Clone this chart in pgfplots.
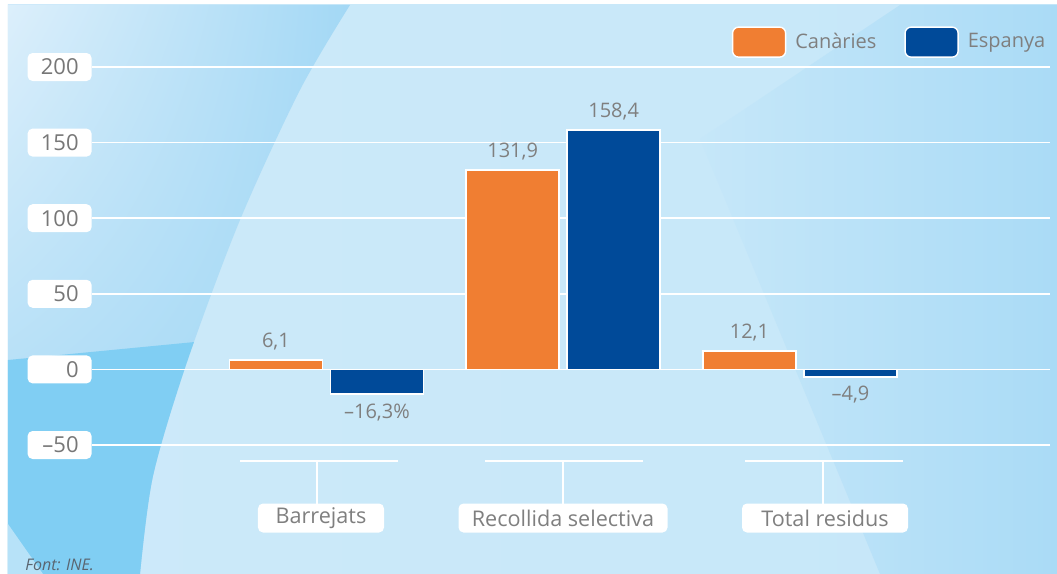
\documentclass[border=0pt]{standalone}
\usepackage{fontspec}
\setmainfont{Open Sans}
\usepackage{pgfplots}
\pgfplotsset{compat=1.18}
\usetikzlibrary{shadings}
\definecolor{cOrange}{HTML}{F07E32}
\definecolor{cBlue}{HTML}{004A99}
\definecolor{valGray}{HTML}{7F7F7F}
\definecolor{tickGray}{HTML}{777777}
\definecolor{srcGray}{HTML}{5A6570}
\definecolor{bgPale}{HTML}{DCEFFB}
\definecolor{bgBase}{HTML}{C6E7F9}
\definecolor{bgMid}{HTML}{A3D8F5}
\definecolor{bgDark}{HTML}{80CEF3}
\definecolor{bgRight}{HTML}{AADBF6}

% category bracket + label box (pixel-like units, origin at axis lower left)
\newcommand{\catlabel}[6]{%
  \draw[white, line width=0.8pt] (#2,-16) -- (#3,-16);
  \draw[white, line width=0.8pt] (#1,-16) -- (#1,-59);
  \node[fill=white, rounded corners=2.5pt, minimum height=14.5pt, minimum width=#5,
        inner sep=0pt, text=valGray, font=\fontsize{10.8}{12}\selectfont] at (#4,-73) {#6};}

\begin{document}
\begin{tikzpicture}
\begin{scope}[x=0.5pt,y=0.5pt]
  \fill[white] (-92,-129) rectangle (965,445);
  \shade[left color=bgBase!70!bgPale, right color=bgBase] (-84,-129) rectangle (965,440);
  % top right wedge
  \shade[left color=bgBase, right color=bgRight]
    (808,440) -- (965,440) -- (965,-129) -- (788,-129) -- (608,306) -- cycle;
  % left swoosh
  \shade[upper left=bgPale, upper right=bgMid, lower left=bgMid, lower right=bgMid]
    (-84,440) -- (258,440) -- plot[smooth] coordinates {(258,440) (208,355) (148,225) (95,83) (61,-31) (48,-129)} -- (-84,-129) -- cycle;
  \begin{scope}
    \clip (-84,440) -- (258,440) -- plot[smooth] coordinates {(258,440) (208,355) (148,225) (95,83) (61,-31) (48,-129)} -- (-84,-129) -- cycle;
    \fill[bgDark] (-84,85) -- (300,122) -- (300,-129) -- (-84,-129) -- cycle;
    \fill[bgPale!60!bgDark] (-84,-79) -- (-49,-129) -- (-84,-129) -- cycle;
  \end{scope}
\end{scope}

\begin{axis}[
  at={(0pt,0pt)}, anchor=south west,
  scale only axis, width=479pt, height=189pt,
  xmin=-0.99, xmax=3.056, ymin=-50, ymax=200,
  clip=false,
  axis line style={draw=none},
  tick style={draw=none},
  xtick=\empty,
  ytick={-50,0,50,100,150,200},
  yticklabels={–50,0,50,100,150,200},
  ymajorgrids, grid style={white, line width=0.8pt},
  yticklabel style={fill=white, rounded corners=2.5pt, text width=19pt, align=right,
    inner xsep=6.5pt, inner ysep=0pt, minimum height=14pt, text=tickGray,
    font=\fontsize{11}{12}\selectfont, anchor=east},
  ybar, bar width=46.5pt,
  nodes near coords, point meta=explicit symbolic,
  every node near coord/.append style={font=\fontsize{10}{12}\selectfont, text=valGray, inner ysep=4.5pt},
  legend style={at={(1.006,1.119)}, anchor=north east, draw=none, fill=none,
    legend columns=2, font=\fontsize{10}{12}\selectfont, text=valGray,
    /tikz/every even column/.append style={column sep=12pt}},
  legend cell align=left,
]
\addplot[fill=cOrange, draw=white, line width=0.7pt, bar shift=-25.25pt,
  legend image code/.code={\draw[draw=white, line width=0.7pt, fill=cOrange, rounded corners=3pt] (0pt,-7.5pt) rectangle (26.5pt,7.5pt); \path (29pt,0pt);}]
  coordinates {(0,6.1) [6,1] (1,131.9) [131,9] (2,12.1) [12,1]};
\addlegendentry{Canàries}
\addplot[fill=cBlue, draw=white, line width=0.7pt, bar shift=25.25pt,
  legend image code/.code={\draw[draw=white, line width=0.7pt, fill=cBlue, rounded corners=3pt] (0pt,-7.5pt) rectangle (26.5pt,7.5pt); \path (29pt,0pt);}]
  coordinates {(1,158.4) [158,4]};
\addlegendentry{Espanya}
% Espanya, negative values (labels below the bars)
\addplot[forget plot, fill=cBlue, draw=white, line width=0.7pt, bar shift=25.25pt,
  every node near coord/.append style={anchor=north}]
  coordinates {(0,-16.3) [–16,3\%] (2,-4.9) [–4,9]};
\end{axis}

\begin{scope}[x=0.5pt,y=0.5pt]
  \catlabel{225}{148}{306}{229}{63pt}{Barrejats}
  \catlabel{471}{393}{551}{471}{104.5pt}{Recollida selectiva}
  \catlabel{731}{653}{811}{733}{83pt}{Total residus}
  \node[anchor=base west, inner sep=0pt, text=srcGray, font=\fontsize{8}{9}\selectfont\itshape] at (-67,-125) {Font: INE.};
\end{scope}
\end{tikzpicture}
\end{document}
